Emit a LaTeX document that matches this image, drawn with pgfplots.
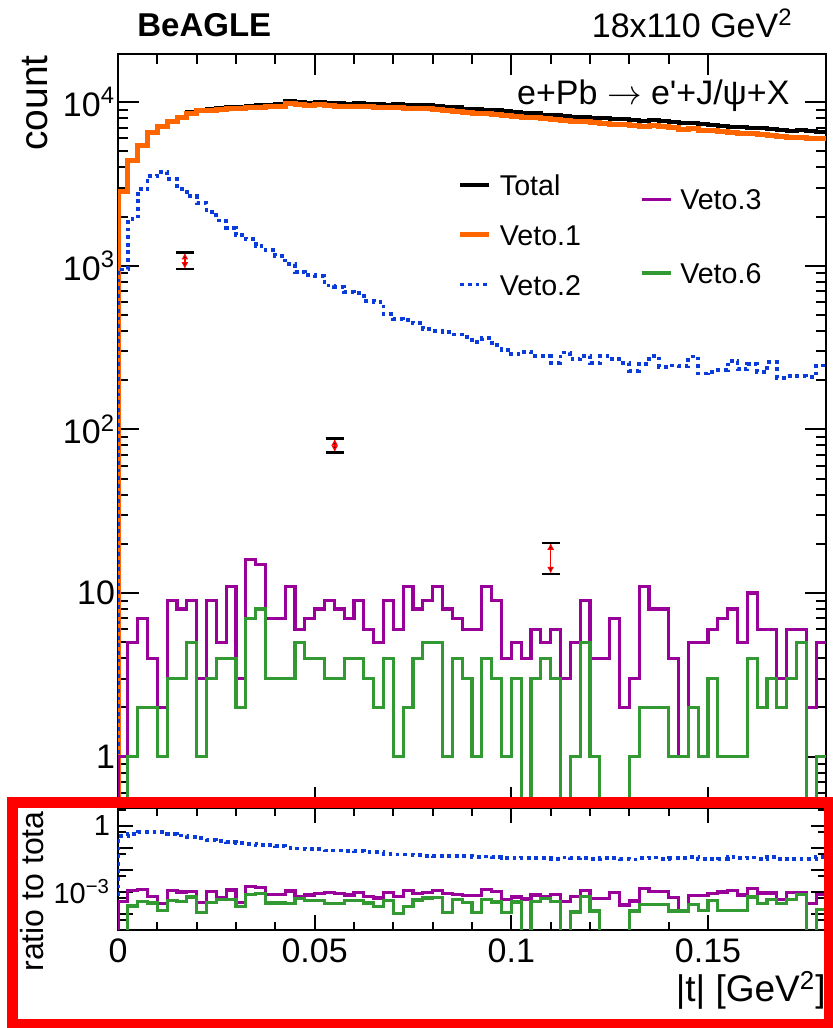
\documentclass[border=0pt]{standalone}
\usepackage{fontspec}
\setmainfont{Liberation Sans}
\usepackage{pgfplots}
\pgfplotsset{compat=1.18}
\usepackage{pgfplotstable}
\usetikzlibrary{arrows.meta}

\definecolor{rootorange}{RGB}{255,102,0}
\definecolor{rootblue}{RGB}{10,60,220}
\definecolor{rootpurple}{RGB}{153,0,153}
\definecolor{rootgreen}{RGB}{51,153,51}

% counts per |t| bin (bin width 0.0025 GeV^2); 0.001 = empty bin
\pgfplotstableread{
x tot v1 v2 v3 v6
0 0.001 0.001 0.001 0.001 0.001
0 2850 2830 950 1 0.001
0.0025 4450 4420 1930 5 1
0.005 5500 5460 2940 7 2
0.0075 6550 6490 3550 4 2
0.01 7150 7080 3760 2 1
0.0125 7700 7610 3400 9 3
0.015 8150 8040 2940 8 3
0.0175 8650 8520 2660 9 5
0.02 9000 8850 2430 3 1
0.0225 9100 8930 2120 9 3
0.025 9200 9010 1890 5 4
0.0275 9300 9090 1710 11 4
0.03 9400 9170 1540 3 2
0.0325 9500 9250 1450 16 7
0.035 9550 9280 1320 15 8
0.0375 9650 9360 1250 7 3
0.04 9750 9440 1150 7 3
0.0425 10100 9770 1020 11 3
0.045 10000 9660 920 6 5
0.0475 9950 9600 875 7 4
0.05 10050 9680 868 8 4
0.0525 9950 9570 757 9 3
0.055 9850 9470 746 8 3
0.0575 9800 9410 695 7 4
0.06 9850 9450 680 9 4
0.0625 9800 9390 610 6 3
0.065 9750 9330 601 5 2
0.0675 9650 9230 505 9 4
0.07 9700 9270 475 6 1
0.0725 9600 9160 467 11 2
0.075 9550 9100 445 8 4
0.0775 9600 9140 409 9 5
0.08 9450 8990 400 11 5
0.0825 9400 8930 392 8 1
0.085 9300 8830 380 7 4
0.0875 9100 8640 369 6 3
0.09 9050 8580 343 6 1
0.0925 8950 8480 361 11 4
0.095 8900 8420 328 9 3
0.0975 8800 8320 306 4 1
0.1 8700 8220 288 5 3
0.1025 8600 8110 297 4 0.001
0.105 8550 8050 281 6 3
0.1075 8400 7900 281 5 4
0.11 8300 7800 256 6 3
0.1125 8200 7700 295 3 0.001
0.115 8150 7640 268 5 1
0.1175 8100 7580 282 9 5
0.12 8000 7470 254 4 1
0.1225 7950 7410 281 4 0.001
0.125 7900 7350 268 7 0.001
0.1275 7850 7290 254 2 0.001
0.13 7800 7230 228 3 1
0.1325 7700 7130 252 11 2
0.135 7750 7170 281 8 2
0.1375 7650 7060 242 8 2
0.14 7550 6960 246 4 1
0.1425 7450 6790 244 1 1
0.145 7500 6900 279 5 2
0.1475 7350 6750 220 5 1
0.15 7300 6700 225 6 3
0.1525 7200 6600 230 7 1
0.155 7100 6500 262 8 1
0.1575 7050 6440 233 5 1
0.16 7000 6390 250 10 4
0.1625 6950 6330 224 6 2
0.165 6850 6230 258 6 3
0.1675 6800 6180 207 3 2
0.17 6700 6080 212 6 3
0.1725 6750 6110 212 6 5
0.175 6650 6000 210 2 0.001
0.1775 6600 5960 246 5 1
0.18 6600 5960 246 5 1
}\hist

% ratio to total per bin; 1e-7 = empty bin
\pgfplotstableread{
x rb rp rg
0 1e-7 1e-7 1e-7
0 0.333 3.5e-4 1e-7
0.0025 0.434 1.12e-3 2.2e-4
0.005 0.535 1.27e-3 3.6e-4
0.0075 0.542 6.1e-4 3.1e-4
0.01 0.526 2.8e-4 1.4e-4
0.0125 0.442 1.17e-3 3.9e-4
0.015 0.361 9.8e-4 3.7e-4
0.0175 0.308 1.04e-3 5.8e-4
0.02 0.270 3.3e-4 1.1e-4
0.0225 0.233 9.9e-4 3.3e-4
0.025 0.205 5.4e-4 4.3e-4
0.0275 0.184 1.18e-3 4.3e-4
0.03 0.164 3.2e-4 2.1e-4
0.0325 0.153 1.68e-3 7.4e-4
0.035 0.138 1.57e-3 8.4e-4
0.0375 0.130 7.3e-4 3.1e-4
0.04 0.118 7.2e-4 3.1e-4
0.0425 0.101 1.09e-3 3.0e-4
0.045 0.092 6.0e-4 5.0e-4
0.0475 0.088 7.0e-4 4.0e-4
0.05 0.086 8.0e-4 4.0e-4
0.0525 0.076 9.0e-4 3.0e-4
0.055 0.076 8.1e-4 3.0e-4
0.0575 0.071 7.1e-4 4.1e-4
0.06 0.069 9.1e-4 4.1e-4
0.0625 0.062 6.1e-4 3.1e-4
0.065 0.062 5.1e-4 2.1e-4
0.0675 0.052 9.3e-4 4.1e-4
0.07 0.049 6.2e-4 1.0e-4
0.0725 0.049 1.15e-3 2.1e-4
0.075 0.047 8.4e-4 4.2e-4
0.0775 0.043 9.4e-4 5.2e-4
0.08 0.042 1.16e-3 5.3e-4
0.0825 0.042 8.5e-4 1.1e-4
0.085 0.041 7.5e-4 4.3e-4
0.0875 0.041 6.6e-4 3.3e-4
0.09 0.038 6.6e-4 1.1e-4
0.0925 0.040 1.23e-3 4.5e-4
0.095 0.037 1.01e-3 3.4e-4
0.0975 0.035 4.5e-4 1.1e-4
0.1 0.033 5.7e-4 3.4e-4
0.1025 0.035 4.7e-4 1e-7
0.105 0.033 7.0e-4 3.5e-4
0.1075 0.033 6.0e-4 4.8e-4
0.11 0.031 7.2e-4 3.6e-4
0.1125 0.036 3.7e-4 1e-7
0.115 0.033 6.1e-4 1.2e-4
0.1175 0.035 1.11e-3 6.2e-4
0.12 0.032 5.0e-4 1.3e-4
0.1225 0.035 5.0e-4 1e-7
0.125 0.034 8.9e-4 1e-7
0.1275 0.032 2.5e-4 1e-7
0.13 0.029 3.8e-4 1.3e-4
0.1325 0.033 1.43e-3 2.6e-4
0.135 0.036 1.03e-3 2.6e-4
0.1375 0.032 1.05e-3 2.6e-4
0.14 0.033 5.3e-4 1.3e-4
0.1425 0.033 1.3e-4 1.3e-4
0.145 0.037 6.7e-4 2.7e-4
0.1475 0.030 6.8e-4 1.4e-4
0.15 0.031 8.2e-4 4.1e-4
0.1525 0.032 9.7e-4 1.4e-4
0.155 0.037 1.13e-3 1.4e-4
0.1575 0.033 7.1e-4 1.4e-4
0.16 0.036 1.43e-3 5.7e-4
0.1625 0.032 8.6e-4 2.9e-4
0.165 0.038 8.8e-4 4.4e-4
0.1675 0.030 4.4e-4 2.9e-4
0.17 0.032 9.0e-4 4.5e-4
0.1725 0.031 8.9e-4 7.4e-4
0.175 0.032 3.0e-4 1e-7
0.1775 0.037 7.6e-4 1.5e-4
0.18 0.037 7.6e-4 1.5e-4
}\ratio

\pgfplotsset{
  rootframe/.style={
    scale only axis, xmin=0, xmax=0.18,
    axis line style={line width=1pt},
    every tick/.style={black, line width=1pt},
    tick align=inside, xtick pos=both, ytick pos=both,
    xtick={0,0.05,0.1,0.15}, minor x tick num=4,
    every tick label/.append style={inner sep=0pt, outer sep=0pt},
  },
  hTotal/.style={const plot mark left, black, line width=2pt, line join=miter},
  hV1/.style={const plot mark left, rootorange, line width=2.5pt, line join=miter},
  hV2/.style={const plot mark left, rootblue, line width=1.9pt, dash pattern=on 1.9pt off 1.9pt},
  hV3/.style={const plot mark left, rootpurple, line width=1.65pt, line join=miter},
  hV6/.style={const plot mark left, rootgreen, line width=1.65pt, line join=miter},
  legstyle/.style={
    legend style={draw=none, fill=none, inner sep=0pt, outer sep=0pt,
      column sep=4pt,
      nodes={inner sep=0pt, text height=10.5pt, text depth=3pt,
             font=\fontsize{14.3}{14.3}\selectfont}},
    legend cell align=left,
    legend image code/.code={\draw[##1] (0pt,1.5pt) -- (14.5pt,1.5pt);},
  },
}

\begin{document}
\begin{tikzpicture}
\path[use as bounding box] (0pt,0pt) rectangle (416.5pt,514pt);

% ---------- top pad ----------
\begin{axis}[rootframe, legstyle,
  at={(59pt,110pt)}, anchor=south west,
  width=354pt, height=377pt,
  ymode=log, ymin=0.486, ymax=19700,
  xticklabels={},
  ytick={1,10,100,1000,10000},
  yticklabels={1,10,10\textsuperscript{2},10\textsuperscript{3},10\textsuperscript{4}},
  minor ytick={0.5,0.6,0.7,0.8,0.9,2,3,4,5,6,7,8,9,20,30,40,50,60,70,80,90,200,300,400,500,600,700,800,900,2000,3000,4000,5000,6000,7000,8000,9000},
  major tick length=10.5pt, minor tick length=5pt,
  yticklabel style={font=\fontsize{17}{17}\selectfont, xshift=-1.5pt},
  ylabel={count},
  ylabel style={font=\fontsize{19.5}{19.5}\selectfont, at={(axis description cs:-0.0989,0.9987)}, anchor=base east, inner sep=0pt},
  legend style={at={(axis description cs:0.4802,0.8408)}, anchor=north west, row sep=11.5pt},
  extra description/.code={
    \node[anchor=base west, inner sep=0pt, font=\bfseries\fontsize{16.5}{16.5}\selectfont] at (0.0268,1.0229) {BeAGLE};
    \node[anchor=base east, inner sep=0pt, font=\fontsize{17}{17}\selectfont] at (0.9534,1.0216) {18x110 GeV\textsuperscript{2}};
    \node[anchor=base east, inner sep=0pt, font=\fontsize{17}{17}\selectfont] at (0.949,0.9324) {e+Pb $\rightarrow$ e\textquotesingle+J/ψ+X};
  },
]
\addplot[hTotal] table[x=x, y=tot] {\hist}; \addlegendentry{Total}
\addplot[hV1] table[x=x, y=v1] {\hist}; \addlegendentry{Veto.1}
\addplot[hV2] table[x=x, y=v2] {\hist}; \addlegendentry{Veto.2}
\addplot[hV3, forget plot] table[x=x, y=v3] {\hist};
\addplot[hV6, forget plot] table[x=x, y=v6] {\hist};
\addplot[forget plot, draw=none, mark=none,
  error bars/.cd, y dir=both, y explicit,
  error bar style={draw=red, line width=0.8pt, -{Latex[length=3.5pt,width=3.5pt]}},
  error mark options={draw=black, line width=1.2pt, mark size=4.5pt, rotate=90}]
  coordinates {(0.017,1080) +- (0,127) (0.0551,80.2) +- (0,7.85) (0.110,16.7) +- (0,3.6)};
\end{axis}

% second legend column (Veto.3, Veto.6)
\begin{axis}[legstyle,
  at={(59pt,110pt)}, anchor=south west, scale only axis,
  width=354pt, height=377pt, hide axis,
  xmin=0, xmax=1, ymin=0, ymax=1,
  legend style={at={(axis description cs:0.7373,0.8210)}, anchor=north west, row sep=23.2pt},
]
\addplot[draw=none, forget plot] coordinates {(0.5,0.5)};
\addlegendimage{hV3}\addlegendentry{Veto.3}
\addlegendimage{hV6}\addlegendentry{Veto.6}
\end{axis}

% ---------- ratio pad ----------
\begin{axis}[rootframe,
  at={(59pt,49pt)}, anchor=south west,
  width=354pt, height=61pt,
  ymode=log, ymin=1.8e-5, ymax=6.5,
  xticklabels={0,0.05,0.1,0.15},
  xticklabel style={font=\fontsize{17}{17}\selectfont, yshift=-4.5pt},
  ytick={1e-4,1e-3,1e-2,1e-1,1},
  yticklabels={,10\textsuperscript{−3},,,1},
  minor ytick={5e-5,5e-4,5e-3,5e-2,0.5,5},
  major tick length=7.5pt, minor tick length=4pt,
  yticklabel style={font=\fontsize{14.5}{14.5}\selectfont, xshift=-4pt},
  xlabel={|t| [GeV\textsuperscript{2}]},
  xlabel style={font=\fontsize{18.5}{18.5}\selectfont, at={(axis description cs:1,-0.588)}, anchor=base east, inner sep=0pt},
  ylabel={ratio to tota},
  ylabel style={font=\fontsize{16}{16}\selectfont, at={(axis description cs:-0.1059,0.975)}, anchor=base east, inner sep=0pt},
]
\addplot[hV2] table[x=x, y=rb] {\ratio};
\addplot[hV3] table[x=x, y=rp] {\ratio};
\addplot[hV6] table[x=x, y=rg] {\ratio};
\end{axis}

% red highlight frame
\draw[red, line width=5.8pt] (6.25pt,1.5pt) rectangle (414.75pt,112.75pt);
\end{tikzpicture}
\end{document}
